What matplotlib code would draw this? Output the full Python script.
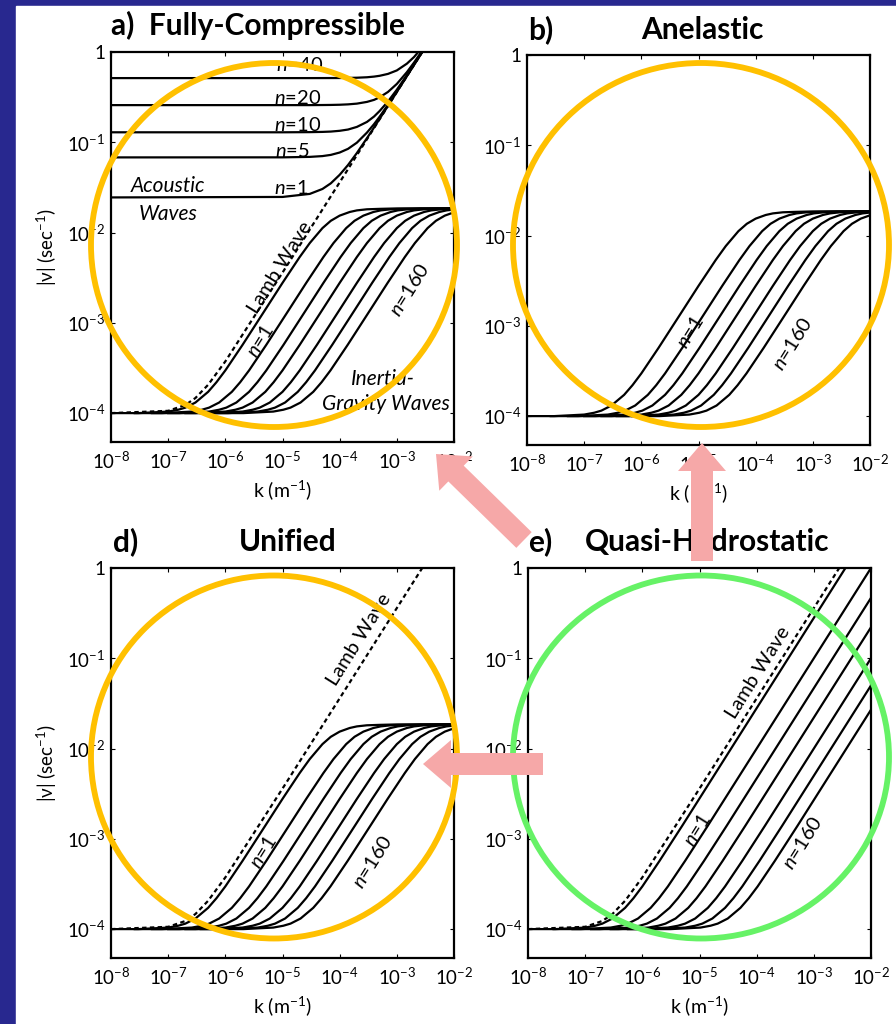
import numpy as np
import matplotlib
matplotlib.use('Agg')
import matplotlib.pyplot as plt
from matplotlib.patches import Ellipse, FancyArrow, Rectangle
from matplotlib.ticker import NullLocator

plt.rcParams['font.family'] = ['Lato', 'DejaVu Sans']
plt.rcParams['mathtext.fontset'] = 'custom'
plt.rcParams['mathtext.rm'] = 'Lato'
plt.rcParams['mathtext.it'] = 'Lato:italic'
plt.rcParams['mathtext.bf'] = 'Lato:bold'

W, H = 896, 1024

# ---- data ----
x_ticks = [1e-8, 1e-7, 1e-6, 1e-5, 1e-4, 1e-3, 1e-2]
x_ticklabels = ['10$^{-8}$', '10$^{-7}$', '10$^{-6}$', '10$^{-5}$', '10$^{-4}$', '10$^{-3}$', '10$^{-2}$']
y_ticks = [1e-4, 1e-3, 1e-2, 1e-1, 1]
y_ticklabels = ['10$^{-4}$', '10$^{-3}$', '10$^{-2}$', '10$^{-1}$', '1']

# inertia-gravity wave, n=1 (panels a, b, d)
k_ig = [1e-8, 3e-8, 1e-7, 1.5e-7, 2e-7, 3e-7, 5e-7, 7e-7, 1e-6, 2e-6, 5e-6, 1e-5,
        2e-5, 3e-5, 5e-5, 7e-5, 1e-4, 1.5e-4, 2e-4, 3e-4, 5e-4, 1e-3, 1e-2]
nu_ig = [1.0e-4, 1.0e-4, 1.04e-4, 1.09e-4, 1.15e-4, 1.31e-4, 1.72e-4, 2.2e-4, 2.97e-4,
         5.7e-4, 1.4e-3, 2.77e-3, 5.36e-3, 7.65e-3, 1.12e-2, 1.35e-2, 1.54e-2, 1.69e-2,
         1.76e-2, 1.81e-2, 1.83e-2, 1.85e-2, 1.85e-2]
# quasi-hydrostatic gravity wave, n=1 (panel e)
nu_qh = [1.0e-4, 1.0e-4, 1.04e-4, 1.09e-4, 1.15e-4, 1.31e-4, 1.72e-4, 2.2e-4, 2.97e-4,
         5.7e-4, 1.4e-3, 2.8e-3, 5.6e-3, 8.4e-3, 1.4e-2, 1.96e-2, 2.8e-2, 4.2e-2,
         5.6e-2, 8.4e-2, 0.14, 0.28, 2.8]
# horizontal shift of each vertical mode relative to n=1 (n = 1, 5, 10, 20, 40, 80, 160)
ig_kshift = [1, 2.6, 5.2, 10, 20, 37, 69]
qh_kshift = [1, 2.8, 6, 12.7, 28, 56, 104]

# Lamb wave
k_lamb = [1e-8, 1e-7, 2e-7, 3e-7, 5e-7, 1e-6, 1e-5, 1e-4, 1e-3, 3.2e-3]
nu_lamb = [1.0e-4, 1.06e-4, 1.23e-4, 1.47e-4, 2.06e-4, 3.74e-4, 3.6e-3, 3.6e-2, 0.36, 1.15]

# acoustic waves (panel a)
k_ac = [1e-8, 1e-5, 3e-5, 5e-5, 7e-5, 1e-4, 1.4e-4, 2e-4, 3e-4, 4e-4, 5e-4, 7e-4,
        1e-3, 1.5e-3, 2e-3, 2.8e-3, 3.2e-3]
nu_ac_n1 = [0.0245, 0.0248, 0.0268, 0.0304, 0.0351, 0.0436, 0.056, 0.076, 0.111, 0.146,
            0.182, 0.253, 0.361, 0.541, 0.72, 1.008, 1.152]
nu_ac_n5 = [0.068, 0.0681, 0.0689, 0.0703, 0.0725, 0.077, 0.0846, 0.099, 0.128, 0.159,
            0.192, 0.261, 0.366, 0.544, 0.723, 1.01, 1.154]
nu_ac_n10 = [0.129, 0.129, 0.1295, 0.1303, 0.1314, 0.134, 0.1384, 0.148, 0.168, 0.193,
             0.222, 0.283, 0.382, 0.555, 0.731, 1.016, 1.159]
nu_ac_n20 = [0.258, 0.258, 0.258, 0.2586, 0.2592, 0.2605, 0.263, 0.268, 0.28, 0.295,
             0.315, 0.361, 0.443, 0.598, 0.764, 1.04, 1.18]
nu_ac_n40 = [0.514, 0.514, 0.514, 0.5143, 0.5146, 0.515, 0.5164, 0.519, 0.525, 0.534,
             0.545, 0.572, 0.625, 0.743, 0.88, 1.13, 1.26]
ac_labels = ['$n$=1', '$n$=5', '$n$=10', '$n$=20', '$n$=40']
ac_label_k = [1.4e-5, 1.5e-5, 1.8e-5, 1.8e-5, 2.0e-5]
ac_label_nu = [0.031, 0.081, 0.155, 0.31, 0.72]

# ---- figure ----
fig = plt.figure(figsize=(W / 100, H / 100), dpi=100)
fig.patch.set_facecolor('#28288f')

bg = fig.add_axes([0, 0, 1, 1], zorder=-5)
bg.set_xlim(0, W)
bg.set_ylim(H, 0)
bg.axis('off')
bg.add_patch(Rectangle((16, 6), W - 16, H - 6, color='white'))


def make_ax(left, top, right, bottom):
    ax = fig.add_axes([left / W, 1 - bottom / H, (right - left) / W, (bottom - top) / H])
    ax.set_xscale('log')
    ax.set_yscale('log')
    ax.set_xlim(1e-8, 1e-2)
    ax.set_ylim(10 ** -4.32, 1)
    ax.set_xticks(x_ticks)
    ax.set_xticklabels(x_ticklabels)
    ax.set_yticks(y_ticks)
    ax.set_yticklabels(y_ticklabels)
    ax.xaxis.set_minor_locator(NullLocator())
    ax.yaxis.set_minor_locator(NullLocator())
    ax.tick_params(direction='in', top=True, right=True, length=3, width=0.8,
                   labelsize=13.5, pad=6)
    ax.tick_params(axis='y', pad=4)
    for s in ax.spines.values():
        s.set_linewidth(1.6)
    return ax


LW = 1.6


def gravity(ax, nu, shifts):
    for s in shifts:
        ax.plot(np.array(k_ig) * s, nu, color='black', lw=LW)


def lamb(ax):
    ax.plot(k_lamb, nu_lamb, color='black', lw=LW, ls=(0, (2, 1.5)))


def xlabel(ax):
    ax.text(0.5, -0.123, 'k (m$^{-1}$)', transform=ax.transAxes, ha='center', va='center', fontsize=14)


def ylabel(ax):
    ax.text(-0.187, 0.5, '|ν| (sec$^{-1}$)', transform=ax.transAxes, ha='center', va='center',
            rotation=90, fontsize=13.5)


lab = dict(ha='center', va='center', rotation=58, rotation_mode='anchor', fontsize=14.5)
itl = dict(ha='center', va='center', fontsize=15, style='italic')

# a) Fully-Compressible
ax_a = make_ax(111, 52, 454, 442)
gravity(ax_a, nu_ig, ig_kshift)
lamb(ax_a)
for nu in [nu_ac_n1, nu_ac_n5, nu_ac_n10, nu_ac_n20, nu_ac_n40]:
    ax_a.plot(k_ac, nu, color='black', lw=LW)
for txt, kk, nn in zip(ac_labels, ac_label_k, ac_label_nu):
    ax_a.text(kk, nn, txt, ha='center', va='center', fontsize=14.5)
ax_a.text(1e-7, 0.033, 'Acoustic', **itl)
ax_a.text(1e-7, 0.016, 'Waves', **itl)
ax_a.text(9.1e-6, 4.1e-3, 'Lamb Wave', **lab)
ax_a.text(4.1e-6, 6.3e-4, '$n$=1', **lab)
ax_a.text(1.7e-3, 2.3e-3, '$n$=160', **lab)
ax_a.text(5.8e-4, 2.4e-4, 'Inertia-', **itl)
ax_a.text(6.5e-4, 1.26e-4, 'Gravity Waves', **itl)
ylabel(ax_a)
xlabel(ax_a)

# b) Anelastic
ax_b = make_ax(527, 55, 870, 445)
gravity(ax_b, nu_ig, ig_kshift)
ax_b.text(7.1e-6, 8.5e-4, '$n$=1', **lab)
ax_b.text(4.5e-4, 6.3e-4, '$n$=160', **lab)
xlabel(ax_b)

# d) Unified
ax_d = make_ax(111, 568, 454, 958)
gravity(ax_d, nu_ig, ig_kshift)
lamb(ax_d)
ax_d.text(2.2e-4, 0.16, 'Lamb Wave', **lab)
ax_d.text(4.6e-6, 7.1e-4, '$n$=1', **lab)
ax_d.text(3.8e-4, 5.5e-4, '$n$=160', **lab)
ylabel(ax_d)
xlabel(ax_d)

# e) Quasi-Hydrostatic
ax_e = make_ax(528, 568, 871, 958)
for s in qh_kshift:
    ax_e.plot(np.array(k_ig) * s, nu_qh, color='black', lw=LW)
lamb(ax_e)
ax_e.text(1.05e-4, 0.069, 'Lamb Wave', **lab)
ax_e.text(9.3e-6, 1.26e-3, '$n$=1', **lab)
ax_e.text(6.5e-4, 9.1e-4, '$n$=160', **lab)
xlabel(ax_e)

# titles
tkw = dict(fontsize=21.5, fontweight='bold', va='center')
fig.text(111 / W, 1 - 25 / H, 'a)  Fully-Compressible', ha='left', **tkw)
fig.text(528 / W, 1 - 30 / H, 'b)', ha='left', **tkw)
fig.text(702 / W, 1 - 30 / H, 'Anelastic', ha='center', **tkw)
fig.text(113 / W, 1 - 542 / H, 'd)', ha='left', **tkw)
fig.text(288 / W, 1 - 542 / H, 'Unified', ha='center', **tkw)
fig.text(528 / W, 1 - 542 / H, 'e)', ha='left', **tkw)
fig.text(585 / W, 1 - 542 / H, 'Quasi-Hydrostatic', ha='left', **tkw)

# overlay: circles and arrows
ov = fig.add_axes([0, 0, 1, 1], zorder=10)
ov.set_xlim(0, W)
ov.set_ylim(H, 0)
ov.axis('off')
ov.patch.set_alpha(0)
gold = '#ffc000'
green = '#66f266'
pink = '#f6a8a8'
ov.add_patch(Ellipse((274, 245), 366, 364, fill=False, ec=gold, lw=4.2))
ov.add_patch(Ellipse((701, 245), 376, 364, fill=False, ec=gold, lw=4.2))
ov.add_patch(Ellipse((274, 757), 366, 363, fill=False, ec=gold, lw=4.2))
ov.add_patch(Ellipse((701, 757), 376, 363, fill=False, ec=green, lw=4.2))
akw = dict(width=22, head_width=48, head_length=28, length_includes_head=True, color=pink, lw=0)
ov.add_patch(FancyArrow(524, 540, -88, -86, **akw))
ov.add_patch(FancyArrow(702, 561, 0, -118, **akw))
ov.add_patch(FancyArrow(543, 764, -120, 0, **akw))

fig.savefig('out.png', dpi=100, facecolor=fig.get_facecolor())
